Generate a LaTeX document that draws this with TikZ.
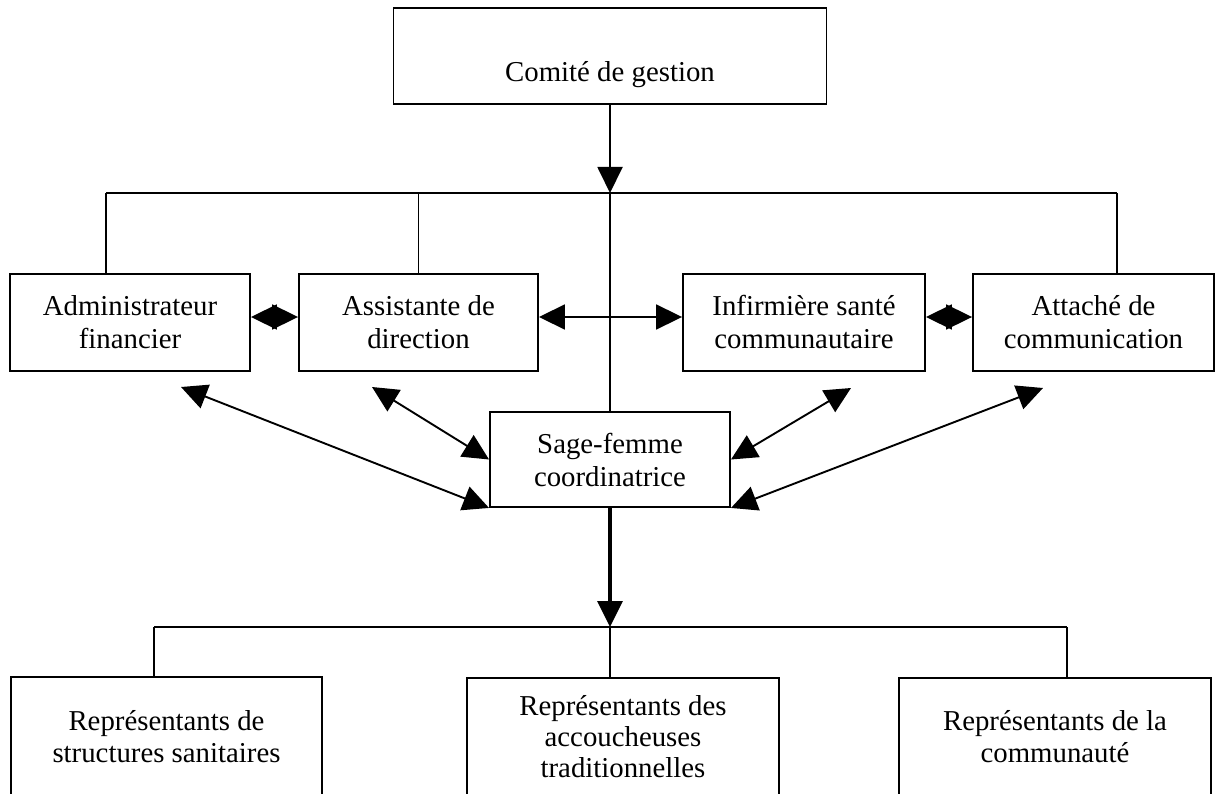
\documentclass[tikz,border=0pt]{standalone}
\usepackage{fontspec}
\setmainfont{Liberation Serif}
\usetikzlibrary{arrows.meta}

\begin{document}
\begin{tikzpicture}[x=1pt, y=-1pt,
    box/.style={draw, line width=1.9pt, align=center, inner sep=0pt,
      font=\fontsize{28.8}{33}\selectfont},
    link/.style={line width=1.9pt},
    tip/.style={link, -{Triangle[length=26pt, width=25pt]}},
    bitip/.style={link, {Triangle[length=26pt, width=25pt]}-{Triangle[length=26pt, width=25pt]}}]
    \useasboundingbox (0,0) rectangle (1217,794);
    \clip (0,0) rectangle (1217,794);

    % boxes
    \node[box, minimum width=433pt, text height=73.6pt, text depth=22.4pt] (comite) at (610,56) {Comité de gestion};
    \node[box, minimum width=240pt, minimum height=97pt] (admin) at (130,322.5) {Administrateur\\financier};
    \node[box, minimum width=239pt, minimum height=97pt] (assist) at (418.5,322.5) {Assistante de\\direction};
    \node[box, minimum width=242pt, minimum height=97pt] (infirm) at (804,322.5) {Infirmière santé\\communautaire};
    \node[box, minimum width=241pt, minimum height=97pt] (attache) at (1093.5,322.5) {Attaché de\\communication};
    \node[box, minimum width=240pt, minimum height=95pt] (sage) at (610,459.5) {Sage-femme\\coordinatrice};
    \node[box, anchor=north, minimum width=311pt, text height=86pt, text depth=200pt, font=\fontsize{28.8}{32}\selectfont] (rep1) at (166.5,676) {Représentants de\\structures sanitaires};
    \node[box, anchor=north, minimum width=312pt, text height=100pt, text depth=200pt, font=\fontsize{28.8}{31}\selectfont] (rep2) at (623,677) {Représentants des\\accoucheuses\\traditionnelles};
    \node[box, anchor=north, minimum width=312pt, text height=85pt, text depth=200pt, font=\fontsize{28.8}{32}\selectfont] (rep3) at (1055,677) {Représentants de la\\communauté};

    % upper bus
    \coordinate (top) at (610,193);
    \coordinate (busL) at (106,193);
    \coordinate (busR) at (1117,193);
    \coordinate (mid) at (610,317);
    \draw[tip] (comite.south) -- (top);
    \draw[link] (busL) -- (busR);
    \draw[link] (busL) -- (busL |- admin.north);
    \draw[link] (assist.north |- busL) -- (assist.north);
    \draw[link] (busR) -- (busR |- attache.north);
    \draw[link] (top) -- (sage.north);
    \draw[bitip] (admin.east |- mid) -- (assist.west |- mid);
    \draw[bitip] (assist.east |- mid) -- (infirm.west |- mid);
    \draw[bitip] (infirm.east |- mid) -- (attache.west |- mid);

    % links to the coordinator
    \coordinate (d1) at (181,387);
    \coordinate (d2) at (372,387);
    \coordinate (d3) at (851,388);
    \coordinate (d4) at (1043,388);
    \draw[bitip] (d1) -- (sage.south west);
    \draw[bitip] (d2) -- (sage.west);
    \draw[bitip] (d3) -- (sage.east);
    \draw[bitip] (d4) -- (sage.south east);

    % lower bus
    \coordinate (bot) at (610,627);
    \coordinate (botL) at (154,627);
    \coordinate (botR) at (1067,627);
    \draw[tip, line width=3.5pt] (sage.south) -- (bot);
    \draw[link] (botL) -- (botR);
    \draw[link] (botL) -- (botL |- rep1.north);
    \draw[link] (bot) -- (bot |- rep2.north);
    \draw[link] (botR) -- (botR |- rep3.north);
\end{tikzpicture}
\end{document}
